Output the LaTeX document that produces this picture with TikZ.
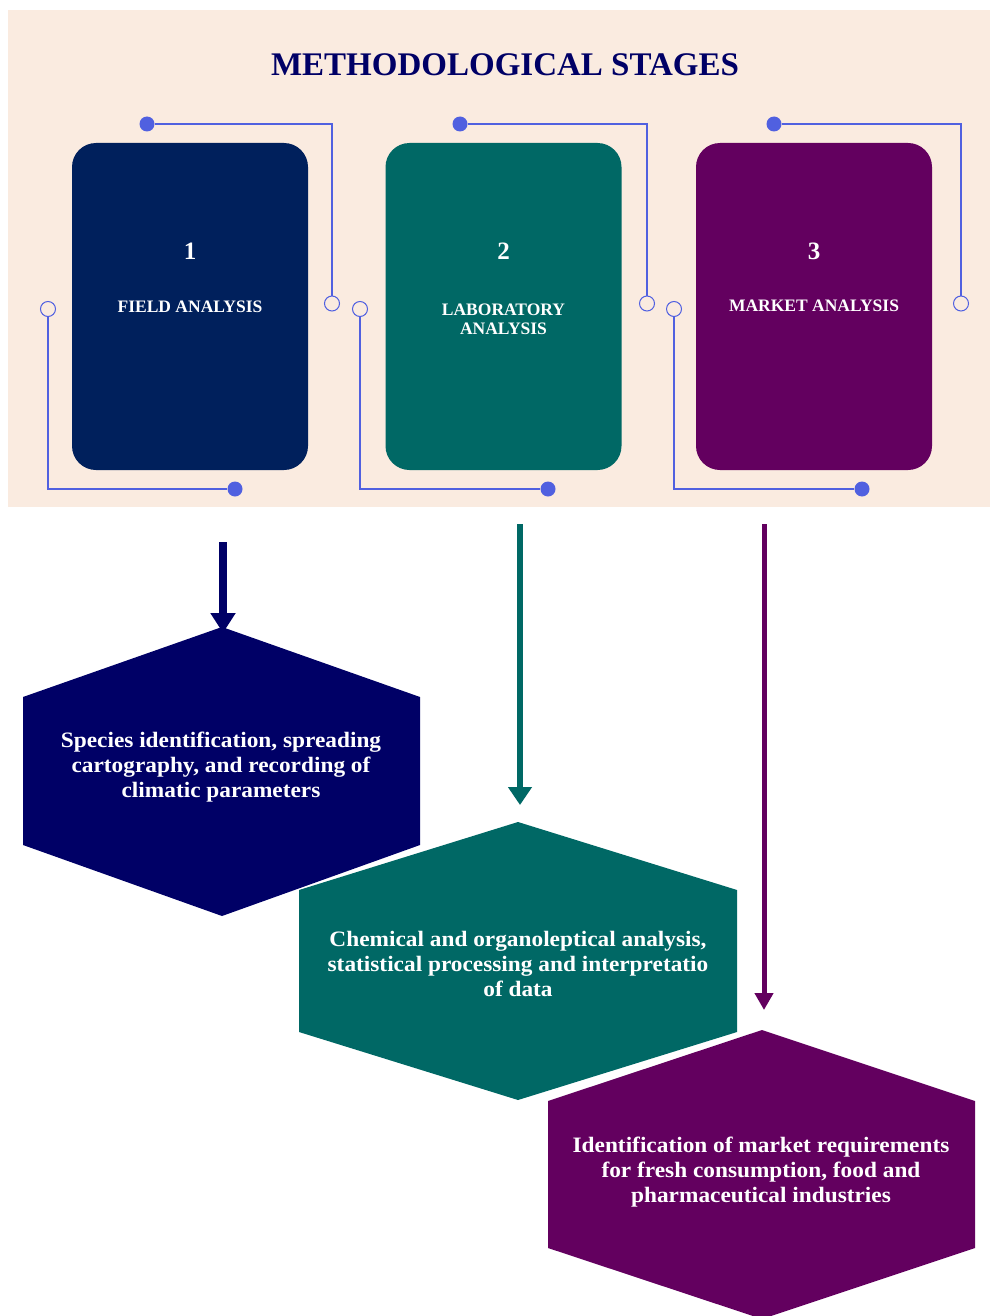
\documentclass[tikz,border=0pt]{standalone}
\usepackage{fontspec}
\setmainfont{Liberation Serif}[FakeStretch=1.06]
\newfontfamily\titlefont{Liberation Serif}
\usetikzlibrary{positioning,arrows.meta}

\definecolor{peach}{HTML}{FAEBE0}
\definecolor{navycard}{HTML}{00205C}
\definecolor{tealcard}{HTML}{006865}
\definecolor{plumcard}{HTML}{63005F}
\definecolor{navyhex}{HTML}{000066}
\definecolor{wire}{HTML}{5060E0}

\tikzstyle{card} = [rectangle,rounded corners=24pt,minimum width=236pt,minimum height=327pt,inner sep=0pt]
\tikzstyle{stagenum} = [text=white,font=\titlefont\bfseries\fontsize{25}{30}\selectfont]
\tikzstyle{stagename} = [text=white,align=center,font=\titlefont\bfseries\fontsize{17.5}{19}\selectfont]
\tikzstyle{pin} = [circle,fill=wire,inner sep=0pt,minimum size=15pt]
\tikzstyle{socket} = [circle,draw=wire,fill=peach,line width=1pt,inner sep=0pt,minimum size=15pt]
\tikzstyle{wireline} = [draw=wire,line width=1.3pt]
\tikzstyle{hextext} = [text=white,align=center,font=\bfseries\fontsize{22}{25}\selectfont]

\begin{document}
\begin{tikzpicture}[x=1pt,y=-1pt]
   \useasboundingbox (0,0) rectangle (990,1316);
   \fill[peach] (8,10) rectangle (990,507);
   \node[text=navyhex,font=\titlefont\bfseries\fontsize{33}{38}\selectfont] (title) at (505,65) {METHODOLOGICAL STAGES};

   % stage cards
   \node[card,fill=navycard] (field) at (190,306.5) {};
   \node[card,fill=tealcard] (lab) at (503.5,306.5) {};
   \node[card,fill=plumcard] (market) at (814,306.5) {};
   \node[stagename] (fieldname) at (field.center) {FIELD ANALYSIS};
   \node[stagename] (labname) at ([yshift=-13pt]lab.center) {LABORATORY\\ANALYSIS};
   \node[stagename] (marketname) at ([yshift=1pt]market.center) {MARKET ANALYSIS};
   \node[stagenum] at ([yshift=55pt]field.center) {1};
   \node[stagenum] at ([yshift=55pt]lab.center) {2};
   \node[stagenum] at ([yshift=55pt]market.center) {3};

   % circuit wires
   \foreach \n/\t/\r/\l/\b in {a/147/332/48/235, b/460/647/360/548, c/774/961/674/862} {
      \node[pin] (top\n) at (\t,124) {};
      \node[socket] (right\n) at (\r,303.5) {};
      \node[socket] (left\n) at (\l,309) {};
      \node[pin] (bot\n) at (\b,489) {};
      \path[wireline] (top\n) -| (right\n);
      \path[wireline] (left\n) |- (bot\n);
   }

   % outcome hexagons
   \fill[navyhex] (222,627) -- (420,697) -- (420,845) -- (222,916) -- (23,845) -- (23,697) -- cycle;
   \fill[tealcard] (518,822) -- (737,890) -- (737,1032) -- (518,1100) -- (299,1032) -- (299,890) -- cycle;
   \fill[plumcard] (762,1030) -- (975,1101) -- (975,1248) -- (762,1319) -- (548,1248) -- (548,1101) -- cycle;
   \node[hextext] (species) at (221,767) {Species identification, spreading\\cartography, and recording of\\climatic parameters};
   \node[hextext] (chem) at (518,964) {Chemical and organoleptical analysis,\\statistical processing and interpretatio\\of data};
   \node[hextext] (needs) at (761,1172) {Identification of market requirements\\for fresh consumption, food and\\pharmaceutical industries};

   % arrows
   \coordinate (s1) at (223,542);
   \coordinate (e1) at (223,633);
   \coordinate (s2) at (520,524);
   \coordinate (e2) at (520,805);
   \coordinate (s3) at (764,524);
   \coordinate (e3) at (764,1010);
   \draw[navyhex,line width=8pt,-{Triangle[width=24pt,length=20pt]}] (s1) -- (e1);
   \draw[tealcard,line width=6pt,-{Triangle[width=23pt,length=18pt]}] (s2) -- (e2);
   \draw[plumcard,line width=5pt,-{Triangle[width=18pt,length=17pt]}] (s3) -- (e3);
\end{tikzpicture}
\end{document}
